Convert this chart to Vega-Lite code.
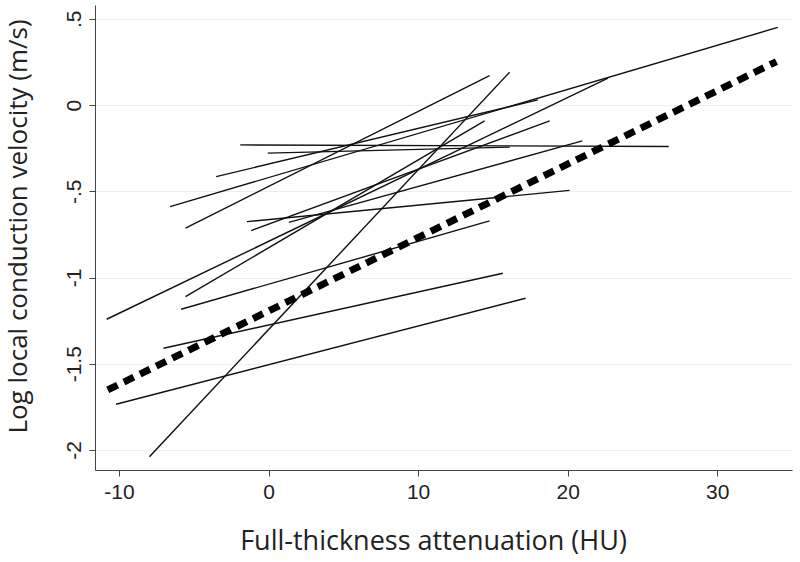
{
  "$schema": "https://vega.github.io/schema/vega-lite/v6.json",
  "width": 697,
  "height": 465,
  "autosize": "none",
  "padding": {"left": 95, "top": 5, "right": 8, "bottom": 92},
  "background": "white",
  "config": {"view": {"stroke": null}, "font": "Liberation Sans"},
  "datasets": {
    "subjects": [
      {"id": "L1", "x": -10.82, "y": -1.242}, {"id": "L1", "x": 22.70, "y": 0.156},
      {"id": "L2", "x": -6.58, "y": -0.589}, {"id": "L2", "x": 34.05, "y": 0.450},
      {"id": "L3", "x": -5.55, "y": -1.111}, {"id": "L3", "x": 14.45, "y": -0.092},
      {"id": "L4", "x": -3.50, "y": -0.415}, {"id": "L4", "x": 18.01, "y": 0.030},
      {"id": "L5", "x": -5.55, "y": -0.714}, {"id": "L5", "x": 14.78, "y": 0.171},
      {"id": "L6", "x": -7.96, "y": -2.039}, {"id": "L6", "x": 16.12, "y": 0.190},
      {"id": "L7", "x": -1.89, "y": -0.231}, {"id": "L7", "x": 26.76, "y": -0.240},
      {"id": "L8", "x": -0.05, "y": -0.279}, {"id": "L8", "x": 16.12, "y": -0.244},
      {"id": "L9", "x": -1.44, "y": -0.676}, {"id": "L9", "x": 20.13, "y": -0.495},
      {"id": "L10", "x": -1.16, "y": -0.728}, {"id": "L10", "x": 18.80, "y": -0.092},
      {"id": "L11", "x": 1.36, "y": -0.680}, {"id": "L11", "x": 20.98, "y": -0.208},
      {"id": "L12", "x": -5.84, "y": -1.184}, {"id": "L12", "x": 14.78, "y": -0.672},
      {"id": "L13", "x": -7.02, "y": -1.410}, {"id": "L13", "x": 15.67, "y": -0.975},
      {"id": "L14", "x": -10.19, "y": -1.735}, {"id": "L14", "x": 17.19, "y": -1.120}
    ],
    "fit": [
      {"x": -10.75, "y": -1.652}, {"x": 33.96, "y": 0.252}
    ]
  },
  "layer": [
    {
      "data": {"name": "subjects"},
      "mark": {"type": "line", "color": "#111111", "strokeWidth": 1.4},
      "encoding": {
        "x": {
          "field": "x", "type": "quantitative",
          "scale": {"domain": [-11.6, 35], "nice": false, "zero": false},
          "axis": {
            "values": [-10, 0, 10, 20, 30],
            "labelExpr": "'' + datum.value",
            "title": "Full-thickness attenuation (HU)",
            "titleFont": "Open Sans", "titleFontSize": 27, "titleFontWeight": "normal",
            "titleColor": "#222222",
            "titleX": 338, "titleY": 71, "titleBaseline": "middle", "titleAnchor": null,
            "labelFont": "Liberation Sans", "labelFontSize": 21, "labelColor": "#222222", "labelPadding": 5,
            "tickSize": 6, "tickColor": "#444444", "domainColor": "#444444",
            "grid": false
          }
        },
        "y": {
          "field": "y", "type": "quantitative",
          "scale": {"domain": [-2.116, 0.58], "nice": false, "zero": false},
          "axis": {
            "values": [-2, -1.5, -1, -0.5, 0, 0.5],
            "labelExpr": "datum.value == 0.5 ? '.5' : datum.value == 0 ? '0' : datum.value == -0.5 ? '-.5' : datum.value == -1 ? '-1' : datum.value == -1.5 ? '-1.5' : '-2'",
            "title": "Log local conduction velocity (m/s)",
            "titleFont": "Open Sans", "titleFontSize": 26, "titleFontWeight": "normal",
            "titleColor": "#222222",
            "titleAngle": -90, "titleX": -77, "titleY": 221, "titleAlign": "center", "titleBaseline": "middle",
            "labelFont": "Liberation Sans", "labelFontSize": 21, "labelColor": "#222222", "labelAngle": -90,
            "labelAlign": "center", "labelBaseline": "bottom", "labelPadding": 5,
            "tickSize": 6, "tickColor": "#444444", "domainColor": "#444444",
            "grid": true, "gridColor": "#eeeeee", "gridWidth": 1
          }
        },
        "detail": {"field": "id", "type": "nominal"}
      }
    },
    {
      "data": {"name": "fit"},
      "mark": {"type": "line", "color": "#000000", "strokeWidth": 7, "strokeDash": [11, 7], "strokeCap": "butt"},
      "encoding": {
        "x": {"field": "x", "type": "quantitative"},
        "y": {"field": "y", "type": "quantitative"}
      }
    }
  ]
}
